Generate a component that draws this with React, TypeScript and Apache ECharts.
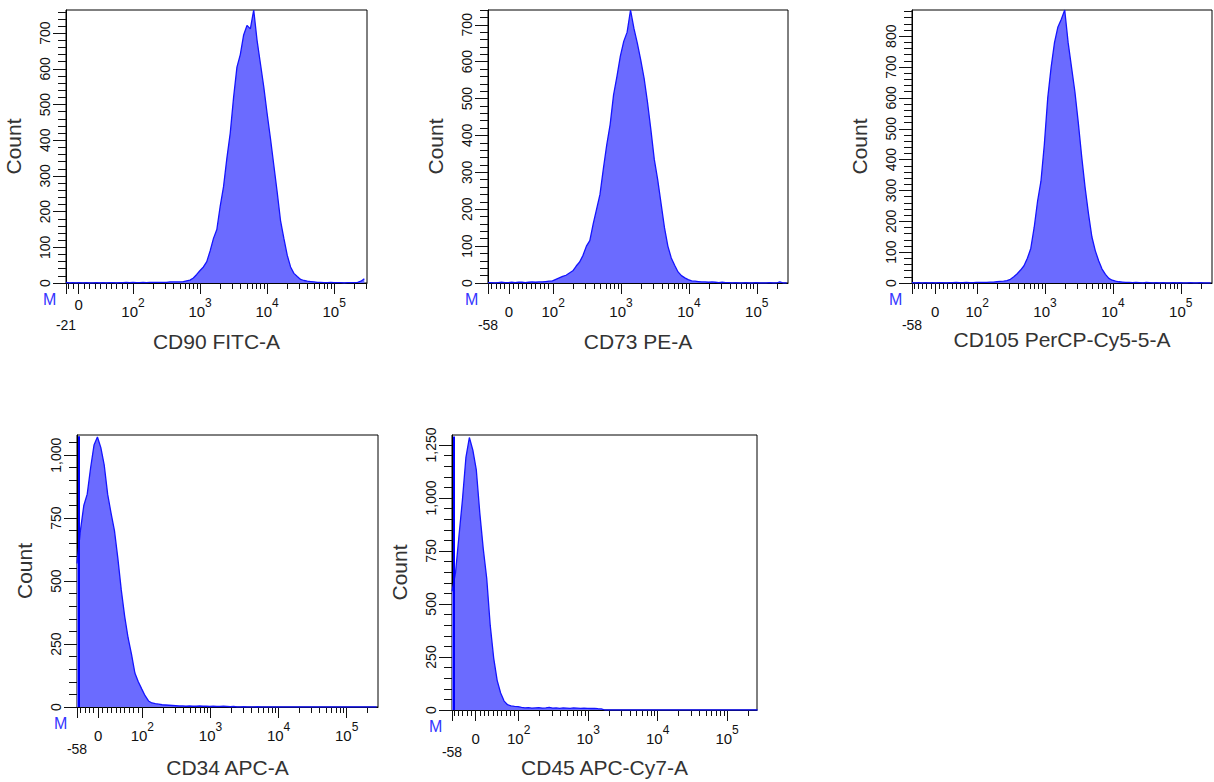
import React, { useEffect, useRef } from "react";
import * as echarts from "echarts";

// Histogram bins are placed on the instrument's display scale (decade units:
// 2 = 10^2, 3 = 10^3 ...; the region below 10^2 is the linear/biexponential part).
const BIN_STEP = 0.05;

// CD90 FITC-A  (bins start at display 1.00)
const cd90Start = 1.0;
const cd90Counts = [
  2, 0, 1, 0, 1, 0, 1, 0, 0, 1, 0, 1, 0, 1, 1, 0, 1, 1, 2, 1, 2, 1, 1, 2, 1, 2, 2, 2, 2, 2, 2, 3, 3, 3,
  3, 4, 6, 8, 14, 24, 35, 45, 60, 90, 125, 150, 215, 270, 350, 420, 520, 605, 640, 695, 722, 712, 765,
  680, 615, 550, 475, 405, 330, 255, 175, 125, 78, 45, 27, 18, 10, 7, 5, 4, 3,
  2, 2, 1, 1, 2, 1, 1, 1, 0, 1, 1, 1, 2, 5, 12,
];

// CD73 PE-A (bins start at display 1.04)
const cd73Start = 1.04;
const cd73Counts = [
  1, 1, 0, 1, 2, 1, 1, 2, 1, 2, 2, 1, 2, 3, 2, 3, 3, 4, 5,
  6, 10, 14, 18, 21, 27, 33, 46, 57, 75, 100, 115, 160, 200, 240, 310, 375, 430, 510, 560, 615, 655, 680,
  740, 690, 650, 605, 555, 490, 415, 335, 280, 215, 150, 100, 68, 48, 30, 20, 14, 9, 6, 5,
  4, 3, 3, 2, 3, 2, 1, 2, 1, 1, 0, 1, 0, 0, 1, 0, 0, 1, 0, 0, 0, 1, 0, 0, 3, 0, 0,
];

// CD105 PerCP-Cy5-5-A
const cd105Start = 1.04;
const cd105Counts = [
  1, 0, 1, 0, 1, 0, 1, 0, 1, 1, 0, 1, 1, 2, 1, 1, 2, 1, 1, 2, 2, 2, 2, 3, 3, 4, 5, 6, 8,
  12, 20, 30, 42, 56, 80, 112, 180, 265, 330, 450, 600, 700, 780, 830, 855, 885, 780, 700, 620, 520,
  410, 310, 225, 150, 105, 72, 45, 28, 15, 9, 6, 4,
  3, 2, 2, 1, 2, 1, 0, 2, 1, 0, 1, 0, 1, 0, 0, 1, 0, 1, 0, 0, 1, 0, 0, 1, 0, 0, 0,
];

// CD34 APC-A
const cd34Start = 1.04;
const cd34Underflow = 1075;
const cd34Counts = [
  570, 700, 800, 845, 950, 1040, 1072, 1030, 960, 845, 770, 700, 590, 465, 360, 275, 210, 135, 100, 72,
  45, 24, 16, 13, 11, 9, 8, 7, 6, 5,
  4, 4, 3, 4, 3, 3, 4, 3, 3, 2, 3, 2, 2, 3, 2, 1, 2,
  0, 0, 1, 0, 0, 0, 1, 0, 0, 0, 0, 0, 0, 0, 0, 0, 0, 0, 0, 0, 0, 0, 0, 0, 0, 0, 0, 0, 0, 0, 0, 0, 0, 0,
  0, 0, 0, 0, 0, 0, 0, 0,
];

// CD45 APC-Cy7-A
const cd45Start = 1.04;
const cd45Underflow = 1290;
const cd45Counts = [
  560, 645, 820, 990, 1190, 1285, 1226, 1132, 930, 760, 620, 400, 245, 140, 80, 42, 25, 19, 17, 16,
  12, 10, 11, 9, 10, 11, 9, 10, 12, 9, 10, 8, 10, 9, 8, 10, 9, 8, 9, 8, 7, 8, 6, 5,
  0, 0, 0, 0, 0, 0, 0, 0, 0, 0, 0, 0, 0, 0, 0, 0, 0, 0, 0, 0, 0, 0, 0, 0, 0, 0, 0, 0, 0, 0, 0, 0, 0, 0,
  0, 0, 0, 0, 0, 0, 0, 0, 0, 0, 0,
];

// Axis decorations
const decadeLabels = [2, 3, 4, 5];
const linearTickValues = [-50, -40, -30, -20, -10, 10, 20, 30, 40, 50, 60, 70, 80, 90];
const logMultipliers = [2, 3, 4, 5, 6, 7, 8, 9];

type Panel = {
  title: string;
  start: number;
  counts: number[];
  underflow?: number;
  axisMin: number;
  axisMax: number;
  zeroPos: number;
  minLabel: string;
  zeroRaised?: boolean;
  yMax: number;
  yStep: number;
  yMinor: number;
  nameGap: number;
  grid: { left: number; top: number; width: number; height: number };
};

const panels: Panel[] = [
  { title: "CD90 FITC-A", start: cd90Start, counts: cd90Counts, axisMin: 1.0, axisMax: 5.49, zeroPos: 1.19, minLabel: "-21", zeroRaised: true, yMax: 765, yStep: 100, yMinor: 20, nameGap: 48, grid: { left: 66, top: 10, width: 301, height: 273 } },
  { title: "CD73 PE-A", start: cd73Start, counts: cd73Counts, axisMin: 1.04, axisMax: 5.46, zeroPos: 1.35, minLabel: "-58", yMax: 740, yStep: 100, yMinor: 20, nameGap: 48, grid: { left: 488, top: 10, width: 300, height: 273 } },
  { title: "CD105 PerCP-Cy5-5-A", start: cd105Start, counts: cd105Counts, axisMin: 1.04, axisMax: 5.46, zeroPos: 1.38, minLabel: "-58", yMax: 885, yStep: 100, yMinor: 20, nameGap: 46, grid: { left: 912, top: 10, width: 300, height: 273 } },
  { title: "CD34 APC-A", start: cd34Start, counts: cd34Counts, underflow: cd34Underflow, axisMin: 1.04, axisMax: 5.46, zeroPos: 1.35, minLabel: "-58", yMax: 1080, yStep: 250, yMinor: 50, nameGap: 50, grid: { left: 77, top: 435, width: 301, height: 272 } },
  { title: "CD45 APC-Cy7-A", start: cd45Start, counts: cd45Counts, underflow: cd45Underflow, axisMin: 1.04, axisMax: 5.43, zeroPos: 1.38, minLabel: "-58", yMax: 1297, yStep: 250, yMinor: 50, nameGap: 47, grid: { left: 452, top: 435, width: 305, height: 275 } },
];

const FONT = '"Liberation Sans", Arial, sans-serif';
const LINE = "#1414ff";
const FILL = "#6b6bff";
const INK = "#111";

function toDisplay(v: number, zeroPos: number) {
  return v >= 100 ? Math.log10(v) : zeroPos + (v / 100) * (2 - zeroPos);
}

function fmtThousands(v: number) {
  return String(Math.round(v)).replace(/\B(?=(\d{3})+(?!\d))/g, ",");
}

function buildOption() {
  const grids: any[] = [];
  const xAxes: any[] = [];
  const yAxes: any[] = [];
  const series: any[] = [];
  const graphics: any[] = [];

  panels.forEach((p, i) => {
    grids.push({ ...p.grid, show: true, borderColor: "#000", borderWidth: 1, backgroundColor: "#fff" });

    const majors = [p.axisMin, p.zeroPos, ...decadeLabels].filter((u) => u <= p.axisMax);
    const minors: number[] = [];
    linearTickValues.forEach((v) => {
      const u = toDisplay(v, p.zeroPos);
      if (u > p.axisMin + 0.005 && u < 2) minors.push(u);
    });
    for (let n = 2; n <= 5; n++) {
      logMultipliers.forEach((k) => {
        const u = Math.log10(k * Math.pow(10, n));
        if (u < p.axisMax) minors.push(u);
      });
    }

    const labelVals = [p.zeroPos, ...decadeLabels];
    xAxes.push({
      type: "value",
      gridIndex: i,
      position: "bottom",
      min: p.axisMin,
      max: p.axisMax,
      splitLine: { show: false },
      axisLine: { show: true, onZero: false, lineStyle: { color: "#000", width: 1 } },
      axisTick: { show: true, customValues: majors, length: 11, lineStyle: { color: "#111", width: 1 } },
      axisLabel: {
        show: true,
        customValues: labelVals,
        margin: 14,
        formatter: (val: number) => {
          if (Math.abs(val - p.zeroPos) < 1e-6) return p.zeroRaised ? "{z|0}" : "{b|0}";
          return `{b|10}{s|${Math.round(val)}}`;
        },
        rich: {
          b: { fontSize: 15, lineHeight: 22, verticalAlign: "bottom", color: INK, fontFamily: FONT },
          s: { fontSize: 12, lineHeight: 22, verticalAlign: "top", color: INK, fontFamily: FONT },
          z: { fontSize: 15, lineHeight: 22, verticalAlign: "top", color: INK, fontFamily: FONT },
        },
      },
      name: p.title,
      nameLocation: "middle",
      nameGap: p.nameGap,
      nameTextStyle: { fontSize: 21, color: "#333", fontFamily: FONT },
    });
    xAxes.push({
      type: "value",
      gridIndex: i,
      position: "bottom",
      offset: 0,
      min: p.axisMin,
      max: p.axisMax,
      splitLine: { show: false },
      axisLine: { show: false, onZero: false },
      axisTick: { show: true, customValues: minors, length: 6, lineStyle: { color: "#111", width: 1 } },
      axisLabel: {
        show: true,
        customValues: [p.axisMin],
        margin: 35,
        fontSize: 14,
        color: INK,
        fontFamily: FONT,
        formatter: () => p.minLabel,
      },
    });

    const yMajors: number[] = [];
    for (let v = 0; v <= p.yMax; v += p.yStep) yMajors.push(v);
    const yMinors: number[] = [];
    for (let v = p.yMinor; v <= p.yMax; v += p.yMinor) if (v % p.yStep !== 0) yMinors.push(v);

    yAxes.push({
      type: "value",
      gridIndex: i,
      position: "left",
      min: 0,
      max: p.yMax,
      splitLine: { show: false },
      axisLine: { show: true, onZero: false, lineStyle: { color: "#000", width: 1 } },
      axisTick: { show: true, customValues: yMajors, length: 13, lineStyle: { color: "#111", width: 1 } },
      axisLabel: {
        show: true,
        customValues: yMajors,
        rotate: 90,
        margin: 14,
        fontSize: 14,
        color: INK,
        fontFamily: FONT,
        formatter: (v: number) => fmtThousands(v),
      },
      name: "Count",
      nameLocation: "middle",
      nameGap: 42,
      nameTextStyle: { fontSize: 21, color: "#333", fontFamily: FONT },
    });
    yAxes.push({
      type: "value",
      gridIndex: i,
      position: "left",
      offset: 0,
      min: 0,
      max: p.yMax,
      splitLine: { show: false },
      axisLine: { show: false, onZero: false },
      axisTick: { show: true, customValues: yMinors, length: 8, lineStyle: { color: "#111", width: 1 } },
      axisLabel: { show: false },
    });

    const data = p.counts.map((c, k) => [+(p.start + k * BIN_STEP).toFixed(3), c]);
    const mainSeries: any = {
      type: "line",
      name: p.title,
      xAxisIndex: 2 * i,
      yAxisIndex: 2 * i,
      data,
      symbol: "none",
      showSymbol: false,
      lineStyle: { color: LINE, width: 1.3 },
      areaStyle: { color: FILL, opacity: 1 },
      z: 3,
    };
    if (p.underflow !== undefined) {
      // off-scale pile-up of events in the first channel, drawn as a thin spike
      const ux = +(p.start + 0.03).toFixed(3);
      mainSeries.markLine = {
        silent: true,
        symbol: ["none", "none"],
        animation: false,
        z: 5,
        label: { show: false },
        lineStyle: { color: "#0000ff", width: 2, type: "solid", opacity: 1 },
        data: [[{ coord: [ux, 0] }, { coord: [ux, p.underflow] }]],
      };
    }
    series.push(mainSeries);

    graphics.push({
      type: "text",
      left: p.grid.left - 23,
      top: p.grid.top + p.grid.height + 8,
      style: { text: "M", fill: "#3535ff", font: `16px ${FONT}` },
    });
  });

  return {
    animation: false,
    backgroundColor: "#fff",
    textStyle: { fontFamily: FONT },
    grid: grids,
    xAxis: xAxes,
    yAxis: yAxes,
    series,
    graphic: graphics,
  };
}

export default function App() {
  const ref = useRef<HTMLDivElement>(null);
  useEffect(() => {
    if (!ref.current) return;
    const chart = echarts.init(ref.current, undefined, { renderer: "svg" });
    chart.setOption(buildOption() as any);
    return () => chart.dispose();
  }, []);
  return (
    <div
      ref={ref}
      style={{ position: "absolute", left: 0, top: 0, width: 1214, height: 782, background: "#fff" }}
    />
  );
}
